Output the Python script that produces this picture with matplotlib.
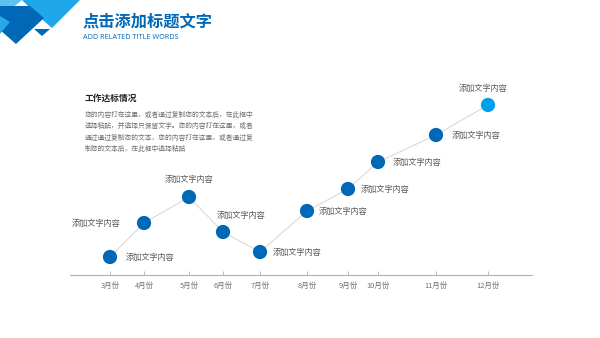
import matplotlib
matplotlib.use("Agg")
import matplotlib.pyplot as plt
from matplotlib.patches import Polygon

plt.rcParams['font.family'] = ['Noto Sans CJK SC', 'DejaVu Sans']

# data
months = ['3月份', '4月份', '5月份', '6月份', '7月份', '8月份', '9月份', '10月份', '11月份', '12月份']
x_pos = [110, 144, 189, 223, 260, 307, 348, 378, 436, 488]
values = [18, 52, 78, 43, 23, 64, 86, 113, 140, 170]
labels = ['添加文字内容'] * 10
title = '点击添加标题文字'
subtitle = 'ADD RELATED TITLE WORDS'
box_title = '工作达标情况'
box_lines = ['您的内容打在这里，或者通过复制您的文本后，在此框中',
             '选择粘贴，并选择只保留文字。您的内容打在这里，或者',
             '通过通过复制您的文本，您的内容打在这里，或者通过复',
             '制您的文本后，在此框中选择粘贴']

# label placement: dx, dy (pixels), ha
label_pos = [(16, 0, 'left'), (-24, 0, 'right'), (0, 18, 'center'),
             (-6, 17, 'left'), (13, 0, 'left'), (12, 0, 'left'),
             (13, 0, 'left'), (15, 0, 'left'), (16, 0, 'left'),
             (-5, 17, 'center')]

dark = '#0068b7'
light = '#00a0e9'
grey = '#595959'

W, H = 600, 338
fig = plt.figure(figsize=(6, 3.38), dpi=100)

# background / decoration axes in pixel coords
bg = fig.add_axes([0, 0, 1, 1])
bg.set_xlim(0, W)
bg.set_ylim(H, 0)
bg.axis('off')

bg.add_patch(Polygon([(22, 0), (80, 0), (52, 28), (36, 14)], closed=True, color='#1ea7e9', lw=0))
bg.add_patch(Polygon([(0, 0), (22, 0), (0, 18)], closed=True, color='#5cc3f0', lw=0))
bg.add_patch(Polygon([(0, 6), (30, 6), (44, 18), (16, 44), (0, 30)], closed=True, color=dark, lw=0))
bg.add_patch(Polygon([(0, 16), (10, 22), (0, 34)], closed=True, color='#27a9e8', lw=0))
bg.add_patch(Polygon([(34, 29), (50, 29), (42, 36)], closed=True, color=dark, lw=0))

bg.text(83, 21, title, fontsize=11.7, color=dark, weight='bold', va='center', ha='left')
bg.text(83, 37.5, subtitle, fontsize=5.2, color=dark, va='center', ha='left',
        family=['Open Sans', 'DejaVu Sans'])

bg.text(85, 98, box_title, fontsize=6.3, color='#222222', weight='bold', va='center')
for i, line in enumerate(box_lines):
    bg.text(85, 115 + i * 11.3, line, fontsize=4.9, color='#707070', va='center')

# chart axes
x0, x1, yb, yt = 70, 532, 275, 75
ax = fig.add_axes([x0 / W, (H - yb) / H, (x1 - x0) / W, (yb - yt) / H])
ax.set_xlim(x0, x1)
ax.set_ylim(0, yb - yt)
for s in ['top', 'right', 'left']:
    ax.spines[s].set_visible(False)
ax.spines['bottom'].set_color('#b0b0b0')
ax.spines['bottom'].set_linewidth(0.8)
ax.set_yticks([])
ax.set_xticks(x_pos)
ax.set_xticklabels(months, fontsize=5.4, color='#707070')
ax.tick_params(axis='x', direction='in', length=3, color='#b0b0b0', width=0.6, pad=5)
ax.patch.set_alpha(0)

ax.plot(x_pos, values, color='#d9d9d9', lw=0.8, zorder=1)
colors = [dark] * (len(values) - 1) + [light]
ax.scatter(x_pos, values, s=105, c=colors, zorder=3, linewidths=0)

for xv, yv, lab, (dx, dy, ha) in zip(x_pos, values, labels, label_pos):
    ax.annotate(lab, (xv, yv), xytext=(dx, dy), textcoords='offset pixels',
                ha=ha, va='center', fontsize=5.9, color=grey)

fig.savefig('out.png', dpi=100)
